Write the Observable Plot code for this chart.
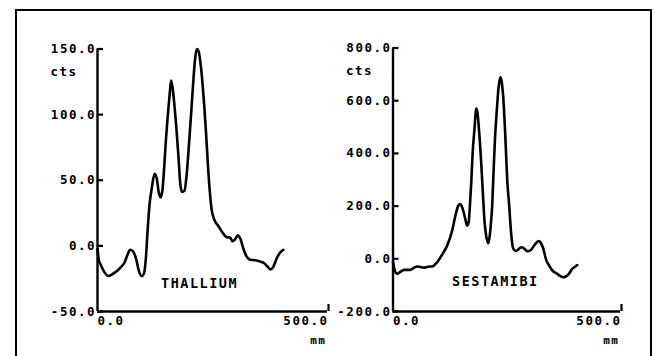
<!DOCTYPE html>
<html>
<head>
<meta charset="utf-8">
<script src="https://cdn.jsdelivr.net/npm/d3@7"></script>
<script src="https://cdn.jsdelivr.net/npm/@observablehq/plot@0.6"></script>
<style>
  html, body { margin: 0; padding: 0; background: #fff; }
  #page { position: relative; width: 655px; height: 356px; overflow: hidden; background: #fff; }
  #frame { position: absolute; left: 15px; top: 9px; width: 633px; height: 400px; border: 2px solid #000; border-bottom: none; }
  .panel { position: absolute; top: 0; }
  .panel svg { background: transparent !important; }
</style>
</head>
<body>
<div id="page">
  <div id="frame"></div>
  <div id="left" class="panel" style="left:0px"></div>
  <div id="right" class="panel" style="left:330px"></div>
</div>
<script>
// ---- data ----
const xTicks = [0, 500];
const xUnit = "mm";
const yUnit = "cts";

const thalliumYTicks = [-50, 0, 50, 100, 150];
const thalliumMm = [0, 3, 6.5, 15, 24, 35, 50, 59, 65, 71, 77, 84, 90, 96, 101, 105, 109, 113, 118, 124, 129, 133, 137, 141, 145, 149, 153, 157, 160, 163, 167, 171, 176, 180, 184, 189, 194, 199, 204, 208, 212, 216, 220, 224, 228, 232, 236, 240, 244, 248, 254, 263, 273, 282, 288, 293, 299, 305, 311, 317, 324, 332, 343, 354, 362, 369, 376, 382, 389, 397, 404];
const thalliumCts = [-2, -11, -14, -20, -23, -21, -16.5, -12.5, -7, -3, -4, -10, -19, -23, -21, -10, 12, 31, 44, 55, 51, 41, 37, 42, 60, 82, 100, 116, 126, 121, 108, 92, 68, 47, 41, 42, 55, 78, 103, 124, 142, 150, 148, 139, 125, 107, 86, 62, 42, 28, 20, 15, 9.5, 6.5, 6.5, 3.5, 5, 8, 5, -2, -8, -10.5, -11, -12, -13, -15.5, -18, -16, -10, -5, -3];
const thalliumLabel = [{name: "THALLIUM", mm: 222, cts: -29}];

const sestamibiYTicks = [-200, 0, 200, 400, 600, 800];
const sestamibiMm = [0, 4, 9, 16, 24, 38, 46, 53, 60, 68, 77, 86, 97, 108, 119, 130, 138, 143, 147, 151, 155, 159, 163, 166, 169, 172, 175, 179, 183, 186, 189, 194, 198, 201, 205, 209, 212, 215, 218, 221, 224, 228, 232, 236, 239, 242, 247, 251, 255, 260, 264, 269, 273, 278, 284, 290, 295, 302, 308, 313, 320, 325, 330, 337, 344, 350, 361, 368, 375, 381, 387, 394, 400, 405];
const sestamibiCts = [-10, -45, -57, -50, -42, -42, -34, -29, -31, -34, -30, -29, -13, 16, 50, 107, 170, 200, 208, 200, 178, 150, 126, 135, 200, 290, 400, 490, 570, 550, 490, 360, 234, 145, 85, 59, 80, 130, 200, 330, 450, 560, 650, 690, 670, 620, 460, 300, 210, 90, 40, 30, 32, 40, 44, 36, 29, 32, 45, 57, 67, 60, 40, -6, -28, -44, -57, -66, -70, -66, -56, -38, -30, -24];
const sestamibiLabel = [{name: "SESTAMIBI", mm: 225, cts: -86}];

// ---- drawing ----
const fmt = d => d.toFixed(1);
const FONT = "'DejaVu Sans Mono', monospace";

function panel({mm, cts, yTicks, label, width, marginLeft, marginRight, marginTop}) {
  const rows = mm.map((m, i) => ({mm: m, cts: cts[i]}));
  const yDomain = [yTicks[0], yTicks[yTicks.length - 1]];
  return Plot.plot({
    width, height: 356,
    marginLeft, marginRight, marginTop, marginBottom: 45,
    x: {domain: [xTicks[0], xTicks[1]], label: null},
    y: {domain: yDomain, label: null},
    style: {fontFamily: FONT, fontWeight: "bold", fontSize: "12.5px", letterSpacing: "1.5px", color: "#000", background: "transparent", overflow: "visible"},
    marks: [
      Plot.ruleX([xTicks[0]], {strokeWidth: 2.4}),
      Plot.ruleY([yDomain[0]], {strokeWidth: 2.4}),
      Plot.axisY(yTicks, {label: null, tickSize: 6, dx: 6, tickPadding: 1.5, tickFormat: fmt, strokeWidth: 2.2}),
      Plot.axisX([xTicks[0]], {label: null, tickSize: 0, tickPadding: 5, textAnchor: "start", tickFormat: fmt}),
      Plot.axisX([xTicks[1]], {label: null, tickSize: 7, dy: -7, tickPadding: 5, textAnchor: "end", dx: 1, tickFormat: fmt, strokeWidth: 2.2}),
      Plot.line(rows, {x: "mm", y: "cts", stroke: "#000", strokeWidth: 2.6, curve: "monotone-x"}),
      Plot.text([yUnit], {frameAnchor: "top-left", textAnchor: "start", lineAnchor: "bottom", dx: -47, dy: 27, fontSize: 12.5}),
      Plot.text([xUnit], {frameAnchor: "bottom-right", textAnchor: "end", lineAnchor: "bottom", dx: -1, dy: 32, fontSize: 11}),
      Plot.text(label, {x: "mm", y: "cts", text: "name", fontSize: 13.5, letterSpacing: "2px"})
    ]
  });
}

document.getElementById("left").append(panel({
  mm: thalliumMm, cts: thalliumCts, yTicks: thalliumYTicks, label: thalliumLabel,
  width: 330, marginLeft: 97, marginRight: 3, marginTop: 48.5
}));
document.getElementById("right").append(panel({
  mm: sestamibiMm, cts: sestamibiCts, yTicks: sestamibiYTicks, label: sestamibiLabel,
  width: 325, marginLeft: 62.5, marginRight: 35, marginTop: 47.5
}));
</script>
</body>
</html>
